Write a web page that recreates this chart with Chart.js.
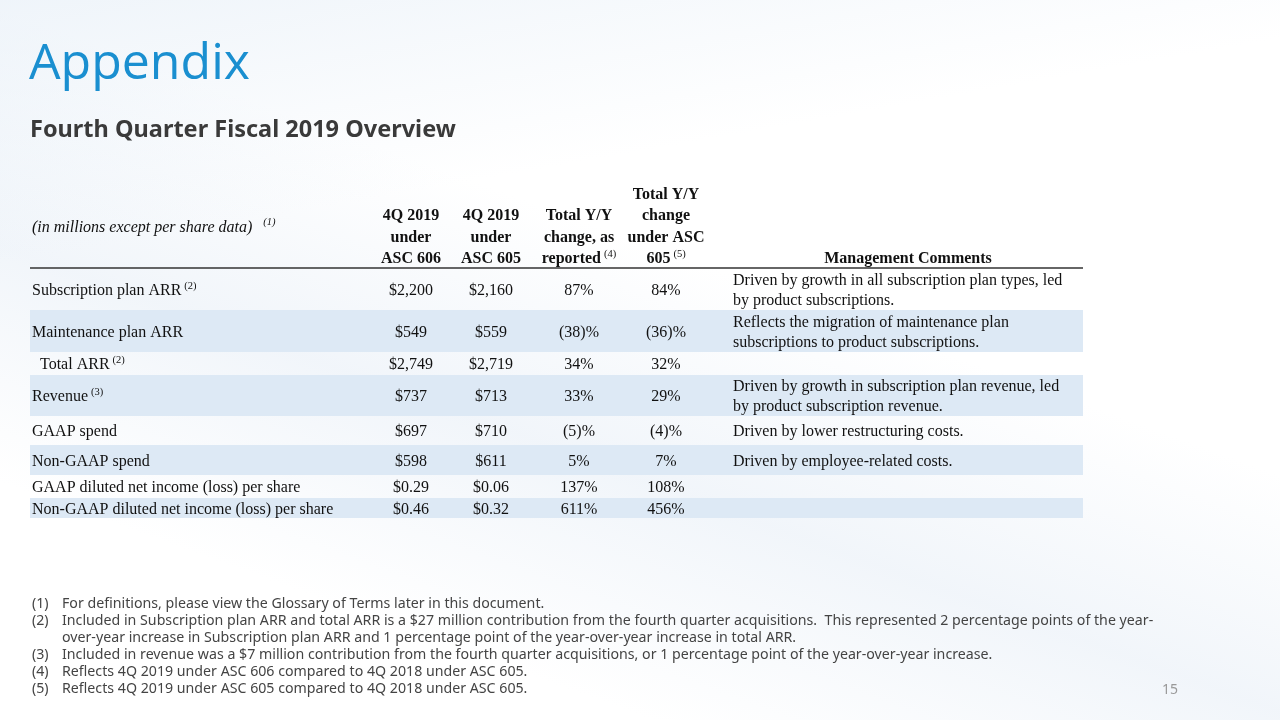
<!DOCTYPE html>
<html>
<head>
<meta charset="utf-8">
<script src="https://cdn.jsdelivr.net/npm/chart.js@4.4.1/dist/chart.umd.min.js"></script>
<style>
  html, body { margin: 0; padding: 0; }
  body {
    width: 1280px; height: 720px; overflow: hidden; position: relative;
    background:
      linear-gradient(170deg, rgba(226,236,246,0.55) 0%, rgba(255,255,255,0) 28%),
      linear-gradient(200deg, rgba(255,255,255,0) 40%, rgba(232,239,247,0.6) 60%, rgba(255,255,255,0) 80%),
      #ffffff;
  }
  #table { position: absolute; left: 0; top: 0; }
  .title { position: absolute; left: 29px; top: 35px; font: 400 50px "Open Sans", sans-serif; color: #1a8fd0; line-height: 1; }
  .subtitle { position: absolute; left: 30px; top: 117px; font: 700 23.5px "Noto Sans", sans-serif; color: #3a3a3a; line-height: 1; }
  .notes { position: absolute; left: 32px; top: 594px; width: 1132px; font: 400 14.2px "Noto Sans", sans-serif; color: #444; line-height: 17px; }
  .notes div { position: relative; padding-left: 30px; }
  .notes span { position: absolute; left: 0; }
  .page { position: absolute; left: 1162px; top: 679px; font: 400 14px "Noto Sans", sans-serif; color: #999; }
</style>
</head>
<body>
<canvas id="table" width="1280" height="720"></canvas>
<div class="title">Appendix</div>
<div class="subtitle">Fourth Quarter Fiscal 2019 Overview</div>
<div class="notes" id="notes"></div>
<div class="page">15</div>
<script>
// table content
const rowLabels = [
  "Subscription plan ARR", "Maintenance plan ARR", "Total ARR", "Revenue",
  "GAAP spend", "Non-GAAP spend",
  "GAAP diluted net income (loss) per share", "Non-GAAP diluted net income (loss) per share"
];
const rowNotes = ["(2)", "", "(2)", "(3)", "", "", "", ""];
const asc606 = ["$2,200", "$549", "$2,749", "$737", "$697", "$598", "$0.29", "$0.46"];
const asc605 = ["$2,160", "$559", "$2,719", "$713", "$710", "$611", "$0.06", "$0.32"];
const yoyReported = ["87%", "(38)%", "34%", "33%", "(5)%", "5%", "137%", "611%"];
const yoyAsc605 = ["84%", "(36)%", "32%", "29%", "(4)%", "7%", "108%", "456%"];
const comments = [
  ["Driven by growth in all subscription plan types, led", "by product subscriptions."],
  ["Reflects the migration of maintenance plan", "subscriptions to product subscriptions."],
  [],
  ["Driven by growth in subscription plan revenue, led", "by product subscription revenue."],
  ["Driven by lower restructuring costs."],
  ["Driven by employee-related costs."],
  [],
  []
];
const columnHeaders = [
  ["4Q 2019", "under", "ASC 606"],
  ["4Q 2019", "under", "ASC 605"],
  ["Total Y/Y", "change, as", "reported"],
  ["Total Y/Y", "change", "under ASC", "605"]
];
const columnNotes = ["", "", "(4)", "(5)"];
const unitsLabel = "(in millions except per share data)";
const commentsHeader = "Management Comments";
const footnotes = [
  "For definitions, please view the Glossary of Terms later in this document.",
  "Included in Subscription plan ARR and total ARR is a $27 million contribution from the fourth quarter acquisitions.\u00a0 This represented 2 percentage points of the year-over-year increase in Subscription plan ARR and 1 percentage point of the year-over-year increase in total ARR.",
  "Included in revenue was a $7 million contribution from the fourth quarter acquisitions, or 1 percentage point of the year-over-year increase.",
  "Reflects 4Q 2019 under ASC 606 compared to 4Q 2018 under ASC 605.",
  "Reflects 4Q 2019 under ASC 605 compared to 4Q 2018 under ASC 605."
];

// layout (page pixels)
const rowEdges = [269, 310, 352, 375, 416, 445, 475, 498, 518];
const shadedRows = [1, 3, 5, 7];
const tableLeft = 30, tableRight = 1083;
const colCenters = [411, 491, 579, 666];
const commentX = 733;

const notesEl = document.getElementById("notes");
footnotes.forEach((t, i) => {
  const d = document.createElement("div");
  d.innerHTML = "<span>(" + (i + 1) + ")</span>" + t;
  notesEl.appendChild(d);
});

const serif = '"Liberation Serif", "Times New Roman", serif';
const noteFont = "10.5px " + serif;

function textWithNote(ctx, text, note, x, y, align, font) {
  ctx.font = font;
  const w = ctx.measureText(text).width;
  ctx.font = noteFont;
  const nw = note ? ctx.measureText(note).width + 3 : 0;
  let left = x;
  if (align === "center") left = x - (w + nw) / 2;
  ctx.font = font;
  ctx.textAlign = "left";
  ctx.fillText(text, left, y);
  if (note) {
    ctx.font = noteFont;
    ctx.fillText(note, left + w + 3, y - 5);
  }
}

const tablePlugin = {
  id: "tableCells",
  beforeDatasetsDraw(chart) {
    const { ctx, scales: { x, y } } = chart;
    ctx.save();
    ctx.fillStyle = "#dde9f5";
    shadedRows.forEach(r => {
      const top = y.getPixelForValue(rowEdges[r]);
      const bot = y.getPixelForValue(rowEdges[r + 1]);
      ctx.fillRect(x.getPixelForValue(tableLeft), top, x.getPixelForValue(tableRight) - x.getPixelForValue(tableLeft), bot - top);
    });
    ctx.strokeStyle = "#333";
    ctx.lineWidth = 1.3;
    ctx.beginPath();
    ctx.moveTo(x.getPixelForValue(tableLeft), y.getPixelForValue(rowEdges[0]) - 1);
    ctx.lineTo(x.getPixelForValue(tableRight), y.getPixelForValue(rowEdges[0]) - 1);
    ctx.stroke();
    ctx.restore();
  },
  afterDraw(chart) {
    const { ctx, scales: { x, y } } = chart;
    ctx.save();
    ctx.fillStyle = "#111";
    ctx.textBaseline = "middle";
    const body = "16px " + serif;
    const bold = "bold 16px " + serif;

    // header
    ctx.font = "italic 16px " + serif;
    ctx.textAlign = "left";
    ctx.fillText(unitsLabel, x.getPixelForValue(32), y.getPixelForValue(228));
    const uw = ctx.measureText(unitsLabel).width;
    ctx.font = "italic " + noteFont;
    ctx.fillText("(1)", x.getPixelForValue(32) + uw + 11, y.getPixelForValue(222));

    const lastLine = 259, lineGap = 21.5;
    columnHeaders.forEach((lines, c) => {
      lines.forEach((t, i) => {
        const yy = lastLine - (lines.length - 1 - i) * lineGap;
        const note = i === lines.length - 1 ? columnNotes[c] : "";
        textWithNote(ctx, t, note, x.getPixelForValue(colCenters[c]), y.getPixelForValue(yy), "center", bold);
      });
    });
    ctx.font = bold;
    ctx.textAlign = "center";
    ctx.fillText(commentsHeader, x.getPixelForValue(908), y.getPixelForValue(lastLine));

    // body rows
    rowLabels.forEach((label, r) => {
      const mid = (rowEdges[r] + rowEdges[r + 1]) / 2 + 1.5;
      const py = y.getPixelForValue(mid);
      const lx = label === "Total ARR" ? 40 : 32;
      textWithNote(ctx, label, rowNotes[r], x.getPixelForValue(lx), py, "left", body);
      [asc606, asc605, yoyReported, yoyAsc605].forEach((col, c) => {
        ctx.font = body;
        ctx.textAlign = "center";
        ctx.fillText(col[r], x.getPixelForValue(colCenters[c]), py);
      });
      const lines = comments[r];
      ctx.font = body;
      ctx.textAlign = "left";
      lines.forEach((t, i) => {
        const off = lines.length === 2 ? (i === 0 ? -10 : 10) : 0;
        ctx.fillText(t, x.getPixelForValue(commentX), y.getPixelForValue(mid + off));
      });
    });
    ctx.restore();
  }
};

new Chart(document.getElementById("table"), {
  type: "bar",
  data: { labels: rowLabels, datasets: [] },
  options: {
    responsive: false,
    animation: false,
    layout: { padding: 0 },
    plugins: { legend: { display: false }, tooltip: { enabled: false } },
    scales: {
      x: { type: "linear", min: 0, max: 1280, offset: false, display: false },
      y: { type: "linear", min: 0, max: 720, reverse: true, offset: false, display: false }
    }
  },
  plugins: [tablePlugin]
});
</script>
</body>
</html>
